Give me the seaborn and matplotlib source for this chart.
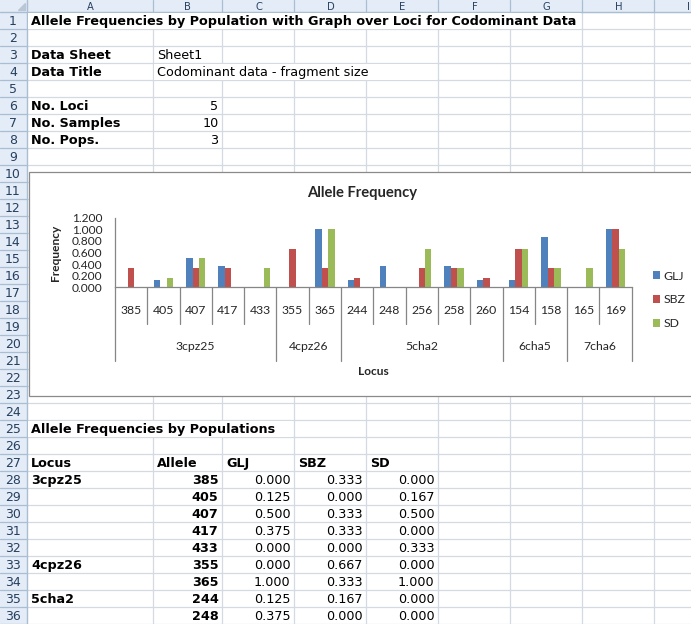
import numpy as np
import pandas as pd
import matplotlib
matplotlib.use("Agg")
import matplotlib.pyplot as plt
import seaborn as sns
from matplotlib.patches import Rectangle

# DATA: allele frequencies by population (codominant data)
pops = ["GLJ", "SBZ", "SD"]
loci = ["3cpz25", "4cpz26", "5cha2", "6cha5", "7cha6"]
allele_locus = ["3cpz25", "3cpz25", "3cpz25", "3cpz25", "3cpz25",
                "4cpz26", "4cpz26",
                "5cha2", "5cha2", "5cha2", "5cha2", "5cha2",
                "6cha5", "6cha5",
                "7cha6", "7cha6"]
alleles = ["385", "405", "407", "417", "433", "355", "365", "244", "248",
           "256", "258", "260", "154", "158", "165", "169"]
glj = [0.000, 0.125, 0.500, 0.375, 0.000, 0.000, 1.000, 0.125, 0.375,
       0.000, 0.375, 0.125, 0.125, 0.875, 0.000, 1.000]
sbz = [0.333, 0.000, 0.333, 0.333, 0.000, 0.667, 0.333, 0.167, 0.000,
       0.333, 0.333, 0.167, 0.667, 0.333, 0.000, 1.000]
sd = [0.000, 0.167, 0.500, 0.000, 0.333, 0.000, 1.000, 0.000, 0.000,
      0.667, 0.333, 0.000, 0.667, 0.333, 0.333, 0.667]
yticks = [0.0, 0.2, 0.4, 0.6, 0.8, 1.0, 1.2]

# sheet header info
sheet_title = "Allele Frequencies by Population with Graph over Loci for Codominant Data"
info_labels = ["Data Sheet", "Data Title"]
info_values = ["Sheet1", "Codominant data - fragment size"]
count_labels = ["No. Loci", "No. Samples", "No. Pops."]
count_values = [5, 10, 3]
table_title = "Allele Frequencies by Populations"
table_head = ["Locus", "Allele"] + pops
n_table_rows = 9

colors = ["#4f81bd", "#c0504d", "#9bbb59"]

df = pd.DataFrame({"Locus": allele_locus, "Allele": alleles,
                   "GLJ": glj, "SBZ": sbz, "SD": sd})
long = df.melt(id_vars=["Locus", "Allele"], value_vars=pops,
               var_name="Pop", value_name="Frequency")

# --- spreadsheet geometry (pixels) ---
W, H = 691, 624
col_edges = [27, 153, 222.5, 294.5, 366.5, 438.5, 510.5, 582.5, 654.5, 726.5]
col_names = ["A", "B", "C", "D", "E", "F", "G", "H", "I"]
row_top0 = 12.3
row_h = 17
n_rows = 36
grid_c = "#d5d9e0"
head_c = "#e4ecf7"
head_line = "#a9bdd3"
SHEET_FONT = "DejaVu Sans"
CHART_FONT = "Lato"

sns.set_style("white")
plt.rcParams["font.family"] = [SHEET_FONT]

fig = plt.figure(figsize=(W / 100, H / 100), dpi=100)
sheet = fig.add_axes([0, 0, 1, 1])
sheet.set_xlim(0, W)
sheet.set_ylim(H, 0)
sheet.axis("off")


def row_mid(r):
    return row_top0 + (r - 1) * row_h + row_h / 2 + 0.6


def cell(r, c, s, bold=False, ha="left"):
    x = col_edges[c] + 4 if ha == "left" else col_edges[c + 1] - 4
    sheet.text(x, row_mid(r), s, ha=ha, va="center", fontsize=9.2,
               fontweight="bold" if bold else "normal", family=SHEET_FONT,
               color="black", zorder=4)


def cover(r, c0, c1):
    # overflowing text hides the vertical gridlines
    top = row_top0 + (r - 1) * row_h
    sheet.add_patch(Rectangle((col_edges[c0] + 1, top + 0.7),
                              col_edges[c1 + 1] - col_edges[c0] - 2, row_h - 1.4,
                              facecolor="white", edgecolor="none", zorder=3))


# gridlines
for x in col_edges[1:]:
    sheet.plot([x, x], [row_top0, H], color=grid_c, lw=0.9, zorder=1)
for r in range(n_rows + 1):
    y = row_top0 + r * row_h
    sheet.plot([col_edges[0], W], [y, y], color=grid_c, lw=0.9, zorder=1)

# headers
sheet.add_patch(Rectangle((0, 0), W, row_top0, facecolor=head_c, edgecolor="none", zorder=2))
sheet.add_patch(Rectangle((0, 0), col_edges[0], H, facecolor=head_c, edgecolor="none", zorder=2))
sheet.plot([0, W], [row_top0, row_top0], color=head_line, lw=1, zorder=2.5)
sheet.plot([col_edges[0], col_edges[0]], [0, H], color=head_line, lw=1, zorder=2.5)
for x in col_edges[1:]:
    sheet.plot([x, x], [0, row_top0], color=head_line, lw=0.9, zorder=2.5)
for r in range(1, n_rows + 1):
    y = row_top0 + r * row_h
    sheet.plot([0, col_edges[0]], [y, y], color=head_line, lw=0.9, zorder=2.5)
    sheet.text(13, row_mid(r), str(r), ha="center", va="center", fontsize=9,
               color="#26405f", zorder=3)
for i, name in enumerate(col_names):
    xc = (col_edges[i] + col_edges[i + 1]) / 2
    if xc < W - 4:
        sheet.text(xc, 6.6, name, ha="center", va="center", fontsize=7.2,
                   color="#26405f", zorder=3)
    else:
        sheet.text(W - 1, 6.6, name, ha="right", va="center", fontsize=7.2,
                   color="#26405f", zorder=3)
sheet.add_patch(plt.Polygon([[18, 10], [25, 10], [25, 3]], color="#b9c6d6", zorder=3))

# sheet contents
cover(1, 0, 6)
cell(1, 0, sheet_title, bold=True)
for i, (lab, val) in enumerate(zip(info_labels, info_values)):
    cell(3 + i, 0, lab, bold=True)
    cell(3 + i, 1, val)
cover(4, 1, 4)
for i, (lab, val) in enumerate(zip(count_labels, count_values)):
    cell(6 + i, 0, lab, bold=True)
    cell(6 + i, 1, str(val), ha="right")
cover(25, 0, 2)
cell(25, 0, table_title, bold=True)
for c, h in enumerate(table_head):
    cell(27, c, h, bold=True)
for i in range(n_table_rows):
    r = 28 + i
    if i == 0 or allele_locus[i] != allele_locus[i - 1]:
        cell(r, 0, allele_locus[i], bold=True)
    cell(r, 1, alleles[i], bold=True, ha="right")
    for c, p in enumerate(pops):
        cell(r, 2 + c, f"{df[p][i]:.3f}", ha="right")

# --- embedded chart ---
box_l, box_t, box_b = 29.3, 171.7, 395.7
sheet.add_patch(Rectangle((box_l, box_t), W + 20 - box_l, box_b - box_t,
                          facecolor="white", edgecolor="#8a8a8a", lw=0.9, zorder=5))
sheet.text(362, 192.7, "Allele Frequency", ha="center", va="center",
           fontsize=10.6, fontweight="bold", family=CHART_FONT, zorder=6)
sheet.text(55.7, 252.5, "Frequency", ha="center", va="center", rotation=90,
           fontsize=8.6, fontweight="bold", family=CHART_FONT, zorder=6)

pl, pt, pr, pb = 115, 217.7, 631.7, 287.3
AX_H = pb - pt
ax = fig.add_axes([pl / W, 1 - pb / H, (pr - pl) / W, AX_H / H])
ax.patch.set_alpha(0)

sns.barplot(data=long, x="Allele", y="Frequency", hue="Pop", order=alleles,
            hue_order=pops, palette=colors, width=0.6, gap=0, saturation=1,
            linewidth=0, errorbar=None, ax=ax)

ax.set_xlim(-0.5, len(alleles) - 0.5)
ax.set_ylim(0, 1.2)
ax.set_yticks(yticks, [f"{v:.3f}" for v in yticks])
ax.set_xlabel("")
ax.set_ylabel("")
for s in ["top", "right"]:
    ax.spines[s].set_visible(False)
for s in ["left", "bottom"]:
    ax.spines[s].set_color("#868686")
    ax.spines[s].set_linewidth(0.9)
ax.tick_params(axis="y", direction="out", length=2.4, width=0.9, color="#868686",
               pad=6.8, labelsize=8.6)
ax.tick_params(axis="x", length=0, pad=12.4, labelsize=8.8)
for t in ax.get_xticklabels() + ax.get_yticklabels():
    t.set_family(CHART_FONT)

# multi-level category axis
tr = ax.get_xaxis_transform()
lvl1 = -36.7 / AX_H
lvl2 = -73.7 / AX_H
idx = np.arange(len(alleles))
group_edges = [-0.5] + [i + 0.5 for i in idx[:-1] if allele_locus[i] != allele_locus[i + 1]] + [len(alleles) - 0.5]
for i in idx[:-1]:
    x = i + 0.5
    y1 = lvl2 if x in group_edges else lvl1
    ax.plot([x, x], [0, y1], transform=tr, color="#868686", lw=0.9, clip_on=False)
for x in [group_edges[0], group_edges[-1]]:
    ax.plot([x, x], [0, lvl2], transform=tr, color="#868686", lw=0.9, clip_on=False)
for loc in loci:
    centre = idx[np.array(allele_locus) == loc].mean()
    ax.text(centre, -58.7 / AX_H, loc, transform=tr, ha="center", va="center",
            fontsize=8.8, family=CHART_FONT)
ax.text(0.5, -84.4 / AX_H, "Locus", transform=ax.transAxes, ha="center",
        va="center", fontsize=8.6, fontweight="bold", family=CHART_FONT)

handles, labels = ax.get_legend_handles_labels()
ax.legend(handles, labels, loc="center left",
          bbox_to_anchor=((652.7 - pl) / (pr - pl), -12.7 / AX_H),
          frameon=False, borderpad=0, borderaxespad=0, handlelength=0.6,
          handleheight=0.6, handletextpad=0.3, labelspacing=1.05,
          prop={"family": CHART_FONT, "size": 8.8})

fig.savefig("out.png", dpi=100)
